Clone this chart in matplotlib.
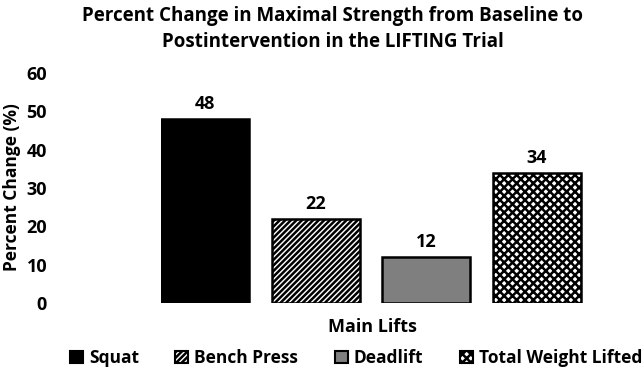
import matplotlib
matplotlib.use("Agg")
import matplotlib.pyplot as plt
from matplotlib.patches import Patch

categories = ["Squat", "Bench Press", "Deadlift", "Total Weight Lifted"]
values = [48, 22, 12, 34]
yticks = [0, 10, 20, 30, 40, 50, 60]

plt.rcParams['font.family'] = ['Open Sans', 'DejaVu Sans']
plt.rcParams['hatch.linewidth'] = 1.8

fig = plt.figure(figsize=(6.44, 3.73), dpi=100)
ax = fig.add_axes([161/644, 1-303/373, 431/644, 230/373])

faces = ["black", "white", "#7f7f7f", "white"]
hatches = [None, "//////", None, "xxxx"]
for i, (c, v) in enumerate(zip(categories, values)):
    ax.bar(i, v, width=0.8, color=faces[i], edgecolor="black", linewidth=1.8,
           hatch=hatches[i], label=c)
    ax.text(i, v + 1.5, f"{v}", ha="center", va="bottom", fontsize=13, fontweight="bold")

ax.set_xlim(-0.4, 3.5)
ax.set_ylim(0, 60)
ax.set_yticks(yticks)
ax.set_yticklabels([str(t) for t in yticks], fontsize=13, fontweight="bold")
ax.set_xticks([])
for s in ax.spines.values():
    s.set_visible(False)
ax.tick_params(axis="y", length=0, pad=82)

fig.text(12/644, 1-187/373, "Percent Change (%)", rotation=90, ha="center", va="center",
         fontsize=12.5, fontweight="bold")
fig.text(372/644, 1-327/373, "Main Lifts", ha="center", va="center", fontsize=13, fontweight="bold")
fig.text(333/644, 1-29/373, "Percent Change in Maximal Strength from Baseline to\nPostintervention in the LIFTING Trial",
         ha="center", va="center", fontsize=13.5, fontweight="bold", linespacing=1.4)

handles = [Patch(facecolor=faces[i], edgecolor="black", linewidth=1.5, hatch=hatches[i], label=categories[i]) for i in range(4)]
fig.legend(handles=handles, loc="center", bbox_to_anchor=(356/644, 1-358/373), ncol=4,
           frameon=False, prop={"size": 12.5, "weight": "bold"}, handlelength=0.75,
           handleheight=0.75, handletextpad=0.35, columnspacing=2.1, borderpad=0.1)

fig.savefig("out.png", dpi=100)
